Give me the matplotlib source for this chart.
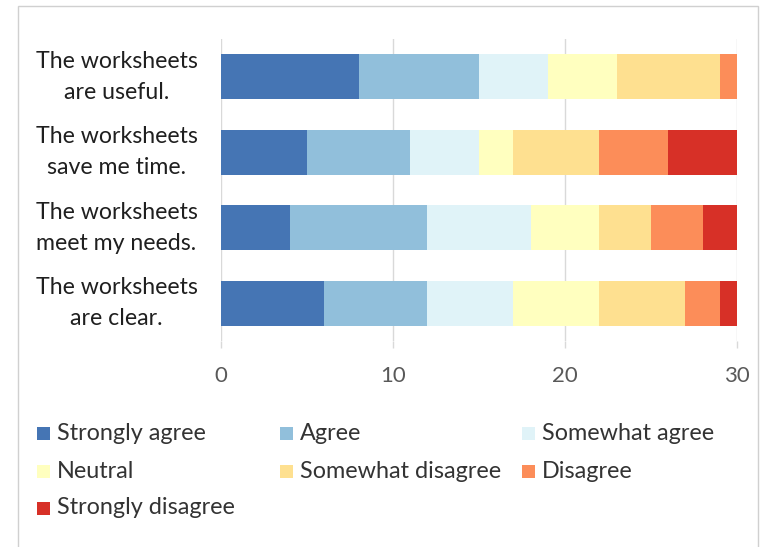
import matplotlib
matplotlib.use("Agg")
import matplotlib.pyplot as plt
from matplotlib.patches import Rectangle
import numpy as np

# Survey statements (top to bottom) and response categories
statements = [
    "The worksheets\nare useful.",
    "The worksheets\nsave me time.",
    "The worksheets\nmeet my needs.",
    "The worksheets\nare clear.",
]
responses = ["Strongly agree", "Agree", "Somewhat agree", "Neutral",
             "Somewhat disagree", "Disagree", "Strongly disagree"]

# Number of respondents per response, one value per statement
strongly_agree = [8, 5, 4, 6]
agree = [7, 6, 8, 6]
somewhat_agree = [4, 4, 6, 5]
neutral = [4, 2, 4, 5]
somewhat_disagree = [6, 5, 3, 5]
disagree = [1, 4, 3, 2]
strongly_disagree = [0, 4, 2, 1]

colors = ["#4575b4", "#91bfdb", "#e0f3f8", "#ffffbf",
          "#fee090", "#fc8d59", "#d73027"]
x_ticks = [0, 10, 20, 30]

plt.rcParams["font.family"] = ["Lato", "DejaVu Sans"]

W, H = 761, 547
fig = plt.figure(figsize=(W / 100, H / 100), dpi=100)
fig.patch.set_facecolor("white")

ax = fig.add_axes([221 / W, 1 - 341 / H, 516 / W, 302 / H])

series = [strongly_agree, agree, somewhat_agree, neutral,
          somewhat_disagree, disagree, strongly_disagree]
y = np.arange(len(statements))
left = np.zeros(len(statements))
for values, label, color in zip(series, responses, colors):
    ax.barh(y, values, left=left, height=0.59, color=color,
            label=label, zorder=3, linewidth=0)
    left += np.array(values)

ax.set_xlim(0, 30)
ax.set_ylim(len(statements) - 0.5, -0.5)
ax.set_xticks(x_ticks)
ax.set_yticks(y)
ax.set_yticklabels(statements)
for t in ax.get_yticklabels():
    t.set_multialignment("center")
    t.set_verticalalignment("center")
    t.set_linespacing(1.6)

ax.grid(axis="x", color="#d9d9d9", linewidth=1, zorder=0)
ax.set_axisbelow(True)
for s in ax.spines.values():
    s.set_visible(False)

ax.tick_params(axis="x", length=5, width=1, color="#d9d9d9", pad=13,
               labelsize=16, labelcolor="#595959")
ax.tick_params(axis="y", length=0, pad=17, labelsize=16.7,
               labelcolor="#1f1f1f")

# Legend laid out in three equal-width columns, row by row
col_x = [37, 280, 522]
row_y = [433, 471, 508]
box = 13
for i, (label, color) in enumerate(zip(responses, colors)):
    r, c = divmod(i, 3)
    x0, yc = col_x[c], row_y[r]
    fig.add_artist(Rectangle((x0 / W, 1 - (yc + box / 2) / H), box / W, box / H,
                             transform=fig.transFigure, facecolor=color,
                             edgecolor="none"))
    fig.text((x0 + 20) / W, 1 - yc / H, label, ha="left", va="center",
             fontsize=16.8, color="#333333")

# Chart frame
fig.add_artist(Rectangle((18 / W, -0.05), 740 / W, 1 - 6 / H + 0.05,
                         transform=fig.transFigure, fill=False,
                         edgecolor="#d0d0d0", linewidth=1))

fig.savefig("out.png", dpi=100)
